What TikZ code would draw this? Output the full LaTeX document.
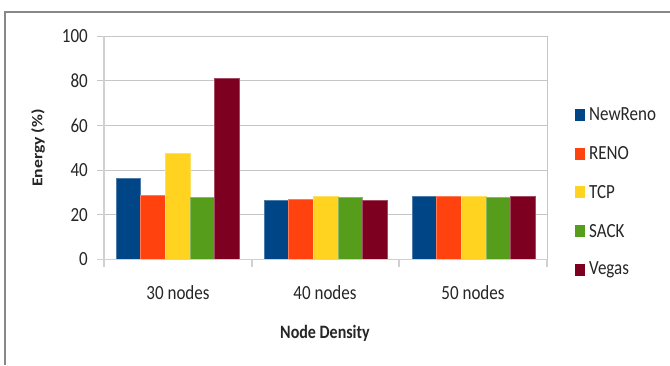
\documentclass[tikz,border=0pt]{standalone}
\usepackage{fontspec}
\setmainfont{Carlito}
\usepackage{graphicx}
\definecolor{bar0}{HTML}{004586}
\definecolor{bar1}{HTML}{FF420E}
\definecolor{bar2}{HTML}{FFD320}
\definecolor{bar3}{HTML}{579D1C}
\definecolor{bar4}{HTML}{7E0021}
\definecolor{gridc}{HTML}{C6C6C6}
\definecolor{axisc}{HTML}{D0D0D0}
\definecolor{borderc}{HTML}{888888}
\newcommand\vtxt[1]{\scalebox{1}[1.18]{#1}}
\newcommand\htxt[1]{\scalebox{1.18}[1]{#1}}
\begin{document}
\begin{tikzpicture}[x=1pt,y=-1pt,
  gridline/.style={draw=gridc,line width=1pt},
  axisline/.style={draw=axisc,line width=1.2pt},
  frameline/.style={draw=borderc,line width=1.6pt},
  ticklab/.style={font=\fontsize{17}{20}\selectfont,inner sep=0pt,text=black!85},
  boldlab/.style={font=\fontsize{16}{19}\bfseries,inner sep=0pt,text=black!85},
  legsq/.style={minimum width=10pt,minimum height=12pt,inner sep=0pt}]
\useasboundingbox (0,0) rectangle (670,365);
\fill[white] (0,0) rectangle (670,365);
% outer frame
\coordinate (fb) at (5,365);
\coordinate (ftl) at (5,12);
\coordinate (ftr) at (670,12);
\draw[frameline] (fb) -- (ftl) -- (ftr);
% grid
\foreach \v in {20,40,60,80,100} {
  \coordinate (gl\v) at (97,{259.5-2.235*\v});
  \coordinate (gr\v) at (547,{259.5-2.235*\v});
  \draw[gridline] (gl\v) -- (gr\v);
  \node[ticklab,anchor=east] (yl\v) at (88,{259.5-2.235*\v}) {\vtxt{\v}};
}
\node[ticklab,anchor=east] (yl0) at (88,259.5) {\vtxt{0}};
\coordinate (rt) at (547,36);
\coordinate (rb) at (547,259.5);
\draw[gridline] (rt) -- (rb);
% bars
\foreach \vals [count=\g from 0] in {{36.3,28.5,47.5,28,80.9},{26.4,26.8,28.4,27.7,26.4},{28.4,28.4,28.4,28,28.4}} {
  \foreach \v [count=\i from 0] in \vals {
    \pgfmathsetmacro{\xl}{116+148*\g+24.7*\i}
    \pgfmathsetmacro{\yt}{259.5-2.235*\v}
    \fill[bar\i] (\xl,259.5) rectangle ({\xl+24.7},\yt);
    \draw[bar\i!70!white,line width=0.7pt] (\xl,259.5) -- (\xl,\yt) -- ({\xl+24.7},\yt) -- ({\xl+24.7},259.5);
  }
}
% axes
\coordinate (yat) at (104,36);
\coordinate (yab) at (104,267);
\draw[axisline] (yat) -- (yab);
\coordinate (xal) at (97,259.5);
\coordinate (xar) at (547,259.5);
\draw[axisline] (xal) -- (xar);
\foreach \x in {252,399,547} {
  \coordinate (tt\x) at (\x,259.5);
  \coordinate (tb\x) at (\x,267);
  \draw[axisline] (tt\x) -- (tb\x);
}
% category labels
\node[ticklab] (c30) at (178,293) {\vtxt{30 nodes}};
\node[ticklab] (c40) at (325,293) {\vtxt{40 nodes}};
\node[ticklab] (c50) at (473,293) {\vtxt{50 nodes}};
% axis titles
\node[boldlab] (xt) at (325,333) {\vtxt{Node Density}};
\node[boldlab,rotate=90,font=\fontsize{15}{18}\bfseries] (yt) at (38,148) {\htxt{Energy (\%)}};
% legend
\foreach \t [count=\i from 0] in {NewReno,RENO,TCP,SACK,Vegas} {
  \node[legsq,fill=bar\i] (ls\i) at (580,{115+38.7*\i}) {};
  \node[ticklab,anchor=west] (lt\i) at (589,{114.5+38.7*\i}) {\vtxt{\t}};
}
\end{tikzpicture}
\end{document}
